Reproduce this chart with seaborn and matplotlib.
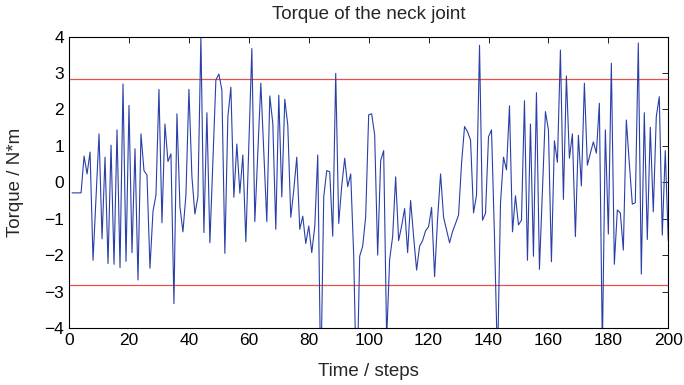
import numpy as np
import pandas as pd
import matplotlib
matplotlib.use('Agg')
import matplotlib.pyplot as plt
import seaborn as sns

# datos (pasos 1..200)
pasos = list(range(1, 201))
torque = [
    -0.29, -0.29, -0.29, -0.29, 0.72, 0.23, 0.83, -2.14, -0.40, 1.33,
    -1.55, 0.69, -2.23, 1.02, -2.25, 1.44, -2.34, 2.70, -2.17, 2.11,
    -1.93, 0.92, -2.68, 1.33, 0.32, 0.20, -2.36, -0.80, -0.35, 2.55,
    -1.11, 1.60, 0.57, 0.78, -3.33, 1.88, -0.67, -1.36, -0.35, 2.55,
    0.15, -0.87, -0.40, 4.00, -1.38, 1.91, -1.66, 0.57, 2.81, 2.97,
    2.53, -1.95, 1.80, 2.61, -0.41, 1.05, -0.30, 0.75, -1.63, 1.02,
    3.67, -1.08, 0.79, 2.72, 0.79, -1.08, 2.37, 1.62, -1.29, 2.39,
    -0.40, 2.28, 1.57, -0.96, -0.21, 0.69, -1.29, -0.93, -1.68, -1.20,
    -1.93, -1.22, 0.75, -5.50, -0.40, 0.32, 0.29, -1.48, 2.99, -1.13,
    -0.10, 0.66, -0.12, 0.23, -2.00, -6.00, -2.03, -1.75, -0.95, 1.85,
    1.88, 1.30, -2.00, 0.59, 0.87, -4.30, -2.12, -1.49, 0.15, -1.60,
    -1.20, -0.72, -1.93, -0.50, -1.49, -2.41, -1.75, -1.60, -1.33, -1.22,
    -0.69, -2.59, -1.00, 0.23, -0.96, -1.31, -1.66, -1.35, -1.13, -0.90,
    0.52, 1.53, 1.39, 1.16, -0.84, -0.35, 3.76, -1.04, -0.85, 1.25,
    1.44, -1.50, -5.00, -0.58, 0.69, 0.34, 2.10, -1.36, -0.37, -1.17,
    -1.04, 2.24, -2.14, 1.60, -2.03, 2.46, -2.39, -0.20, 1.94, 1.44,
    -2.18, 1.14, 0.55, 3.63, -0.47, 2.92, 0.66, 1.33, -1.49, 1.29,
    -0.10, 2.72, 0.47, 0.80, 1.11, 0.80, 2.17, -4.60, 1.44, -1.42,
    3.27, -2.25, -0.76, -0.84, -1.86, 1.71, 0.52, -0.60, -0.56, 3.82,
    -2.52, 1.91, -1.57, 1.51, -0.81, 1.80, 2.35, -1.45, 0.87, -1.60,
]
limites = [2.83, -2.83]
xticks = list(range(0, 201, 20))
yticks = list(range(-4, 5))

df = pd.DataFrame({'paso': pasos, 'torque': torque})

sns.set_style('white')
plt.rcParams['font.family'] = ['Liberation Sans', 'DejaVu Sans']

fig = plt.figure(figsize=(6.84, 3.85), dpi=100)
ax = fig.add_axes([0.101, 0.148, 0.876, 0.757])

for lim in limites:
    ax.axhline(lim, color='#e8504a', linewidth=0.9, zorder=1)

sns.lineplot(data=df, x='paso', y='torque', ax=ax, color='#2a3fa8',
             linewidth=0.8, zorder=2)

ax.set_xlim(0, 200)
ax.set_ylim(-4, 4)
ax.set_xticks(xticks)
ax.set_yticks(yticks)
ax.tick_params(direction='in', top=True, right=True, length=4,
               labelsize=12.5, colors='black', width=0.6)
for s in ax.spines.values():
    s.set_color('black')
    s.set_linewidth(0.8)

ax.set_title('Torque of the neck joint', fontsize=13.5, pad=13)
ax.set_xlabel('Time / steps', fontsize=13.5, labelpad=11)
ax.set_ylabel('Torque / N*m', fontsize=13.5, labelpad=15)

plt.savefig('out.png', dpi=100)
plt.close()
